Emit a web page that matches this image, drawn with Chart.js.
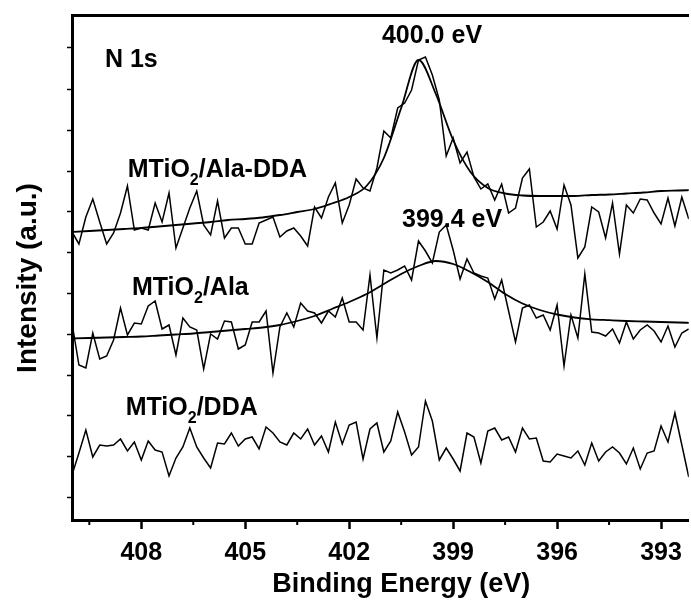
<!DOCTYPE html>
<html lang="en">
<head>
  <meta charset="UTF-8">
  <title>N 1s XPS</title>
  <script src="https://cdn.jsdelivr.net/npm/chart.js"></script>
  <style>
    body { margin: 0; padding: 0; background: #fff; overflow: hidden; }
    canvas { display: block; }
  </style>
</head>
<body>
  <canvas id="xpsChart" width="691" height="601"></canvas>

  <script>
    // binding energy grid of the spectra (eV)
    const energy = [
      410.0, 409.8, 409.6, 409.4, 409.2, 409.0, 408.8, 408.6, 408.4, 408.2,
      408.0, 407.8, 407.6, 407.4, 407.2, 407.0, 406.8, 406.6, 406.4, 406.2,
      406.0, 405.8, 405.6, 405.4, 405.2, 405.0, 404.8, 404.6, 404.4, 404.2,
      404.0, 403.8, 403.6, 403.4, 403.2, 403.0, 402.8, 402.6, 402.4, 402.2,
      402.0, 401.8, 401.6, 401.4, 401.2, 401.0, 400.8, 400.6, 400.4, 400.2,
      400.0, 399.8, 399.6, 399.4, 399.2, 399.0, 398.8, 398.6, 398.4, 398.2,
      398.0, 397.8, 397.6, 397.4, 397.2, 397.0, 396.8, 396.6, 396.4, 396.2,
      396.0, 395.8, 395.6, 395.4, 395.2, 395.0, 394.8, 394.6, 394.4, 394.2,
      394.0, 393.8, 393.6, 393.4, 393.2, 393.0, 392.8, 392.6, 392.4, 392.2
    ];

    const alaDda = [
      288, 276, 303, 321, 298, 276, 287, 307, 334, 290,
      292, 290, 317, 298, 327, 272, 292, 312, 329, 295,
      285, 319, 282, 292, 292, 276, 276, 297, 300, 303,
      283, 289, 292, 284, 274, 313, 302, 323, 337, 297,
      315, 341, 332, 329, 352, 389, 382, 412, 417, 430,
      460, 463, 445, 420, 364, 382, 357, 368, 343, 331,
      336, 320, 336, 307, 312, 342, 351, 293, 298, 309,
      291, 335, 315, 262, 273, 313, 308, 282, 317, 266,
      315, 307, 321, 320, 307, 296, 322, 294, 323, 301
    ];

    const ala = [
      197, 155, 152, 187, 161, 164, 180, 212, 185, 197,
      196, 214, 219, 191, 195, 165, 202, 193, 190, 151,
      186, 181, 199, 198, 171, 175, 198, 198, 209, 147,
      193, 207, 193, 217, 209, 207, 197, 209, 203, 222,
      198, 198, 190, 245, 182, 250, 247, 250, 254, 240,
      279, 269, 257, 288, 295, 270, 241, 261, 247, 244,
      242, 221, 240, 209, 178, 212, 215, 202, 205, 190,
      215, 154, 205, 182, 246, 188, 187, 184, 191, 177,
      198, 181, 190, 195, 189, 178, 194, 173, 187, 191
    ];

    const dda = [
      45, 67, 90, 63, 75, 74, 75, 81, 69, 78,
      60, 79, 70, 68, 44, 62, 73, 92, 73, 62,
      52, 77, 76, 87, 74, 81, 83, 71, 93, 87,
      78, 75, 87, 81, 91, 75, 84, 68, 98, 76,
      95, 98, 61, 91, 97, 68, 79, 108, 88, 65,
      73, 119, 99, 60, 72, 61, 49, 87, 83, 57,
      89, 92, 80, 83, 68, 92, 81, 82, 59, 58,
      66, 64, 62, 69, 55, 77, 59, 68, 73, 67,
      56, 72, 51, 67, 69, 94, 78, 107, 75, 43
    ];

    // fitted peak envelopes, sampled every 0.5 eV
    const fitEnergy = [
      410.0, 409.5, 409.0, 408.5, 408.0, 407.5, 407.0, 406.5, 406.0, 405.5,
      405.0, 404.5, 404.0, 403.5, 403.0, 402.5, 402.0, 401.5, 401.0, 400.5,
      400.0, 399.5, 399.0, 398.5, 398.0, 397.5, 397.0, 396.5, 396.0, 395.5,
      395.0, 394.5, 394.0, 393.5, 393.0, 392.5, 392.0
    ];
    const alaDdaFit = [
      288, 289, 290, 291, 292, 293.5, 295, 296.5, 298, 300,
      301, 302.5, 305, 308, 311, 316.5, 323, 334, 362, 412,
      460, 426, 380, 348, 332, 326.5, 324.5, 324, 324, 324,
      325, 325.5, 326.5, 327.5, 329, 329.5, 330
    ];
    const alaFit = [
      181.5, 182, 182.5, 183, 183.5, 184.5, 185.5, 186.5, 188, 189.5,
      191, 192.5, 195, 199, 204, 211, 218, 226, 236, 246,
      254, 259, 256, 248, 238, 226, 216.5, 210, 205.5, 202.5,
      200.7, 199.8, 199, 198.5, 198, 197.5, 197
    ];

    const xMajorTicks = [408, 405, 402, 399, 396, 393];
    const xMinorTicks = [409.5, 406.5, 403.5, 400.5, 397.5, 394.5];
    const yTicks = [23, 64, 105, 145, 186, 227, 268, 309, 349, 390, 431, 472];

    const xTitle = 'Binding Energy (eV)';
    const yTitle = 'Intensity (a.u.)';

    // text on the plot, placed in data units (eV, a.u.)
    const plotLabels = [
      { parts: [['N 1s']], x: 409.05, y: 453, align: 'left' },
      { parts: [['MTiO'], ['2', true], ['/Ala-DDA']], x: 408.39, y: 343, align: 'left' },
      { parts: [['MTiO'], ['2', true], ['/Ala']], x: 408.27, y: 225, align: 'left' },
      { parts: [['MTiO'], ['2', true], ['/DDA']], x: 408.45, y: 105, align: 'left' },
      { parts: [['400.0 eV']], x: 399.61, y: 477, align: 'center' },
      { parts: [['399.4 eV']], x: 399.03, y: 293, align: 'center' }
    ];

    const FAMILY = '"Liberation Sans", Arial, Helvetica, sans-serif';
    const tickFont = { family: FAMILY, size: 25, weight: 'bold', lineHeight: 1.2 };

    const toPoints = (xs, ys) => xs.map((e, i) => ({ x: e, y: ys[i] }));

    function spectrum(data) {
      return { data: toPoints(energy, data), borderColor: '#000', borderWidth: 1.5,
               pointRadius: 0, tension: 0, fill: false };
    }
    function fitLine(data) {
      return { data: toPoints(fitEnergy, data), borderColor: '#000', borderWidth: 1.8,
               pointRadius: 0, cubicInterpolationMode: 'monotone', fill: false };
    }

    const extraMarks = {
      id: 'extraMarks',
      afterDraw(chart) {
        const { ctx, chartArea, scales: { x, y } } = chart;
        ctx.save();
        // minor ticks on the energy axis
        ctx.strokeStyle = '#000';
        ctx.lineWidth = 2;
        xMinorTicks.forEach(v => {
          const px = x.getPixelForValue(v);
          ctx.beginPath();
          ctx.moveTo(px, chartArea.bottom);
          ctx.lineTo(px, chartArea.bottom + 5);
          ctx.stroke();
        });

        ctx.fillStyle = '#000';
        // axis titles (the original frame runs past the right edge, so the
        // x title sits right of the visible plot centre)
        ctx.textAlign = 'center';
        ctx.textBaseline = 'middle';
        ctx.font = 'bold 27px ' + FAMILY;
        ctx.fillText(xTitle, x.getPixelForValue(400.5), chartArea.bottom + 65);
        ctx.save();
        ctx.translate(28, y.getPixelForValue(242));
        ctx.rotate(-Math.PI / 2);
        ctx.font = 'bold 28px ' + FAMILY;
        ctx.fillText(yTitle, 0, 0);
        ctx.restore();

        // labels inside the plot
        ctx.textBaseline = 'alphabetic';
        ctx.textAlign = 'left';
        plotLabels.forEach(lb => {
          const widths = lb.parts.map(p => {
            ctx.font = (p[1] ? 'bold 16px ' : 'bold 25px ') + FAMILY;
            return ctx.measureText(p[0]).width;
          });
          const total = widths.reduce((a, b) => a + b, 0);
          let px = x.getPixelForValue(lb.x);
          if (lb.align === 'center') px -= total / 2;
          const py = y.getPixelForValue(lb.y);
          lb.parts.forEach((p, i) => {
            ctx.font = (p[1] ? 'bold 16px ' : 'bold 25px ') + FAMILY;
            ctx.fillText(p[0], px, p[1] ? py + 8 : py);
            px += widths[i];
          });
        });
        ctx.restore();
      }
    };

    new Chart(document.getElementById('xpsChart'), {
      type: 'line',
      data: {
        datasets: [
          spectrum(alaDda), fitLine(alaDdaFit),
          spectrum(ala), fitLine(alaFit),
          spectrum(dda)
        ]
      },
      options: {
        responsive: false,
        animation: false,
        layout: { padding: { left: 67, right: 0, top: 15, bottom: 24 } },
        plugins: { legend: { display: false }, tooltip: { enabled: false } },
        scales: {
          x: {
            type: 'linear', position: 'bottom', reverse: true, min: 392.2, max: 410,
            afterBuildTicks: s => { s.ticks = xMajorTicks.map(v => ({ value: v })); },
            ticks: { color: '#000', font: tickFont, padding: 9, maxRotation: 0, autoSkip: false },
            grid: { drawOnChartArea: false, drawTicks: true, tickLength: 9, tickWidth: 2.5, tickColor: '#000' },
            border: { color: '#000', width: 3 }
          },
          xTop: {
            type: 'linear', position: 'top', reverse: true, min: 392.2, max: 410,
            ticks: { display: false },
            grid: { display: false, drawTicks: false },
            border: { color: '#000', width: 3 }
          },
          y: {
            type: 'linear', min: 0, max: 505,
            afterBuildTicks: s => { s.ticks = yTicks.map(v => ({ value: v })); },
            ticks: { display: false },
            grid: { drawOnChartArea: false, drawTicks: true, tickLength: 5, tickWidth: 1.5, tickColor: '#000' },
            border: { color: '#000', width: 3 }
          }
        }
      },
      plugins: [extraMarks]
    });
  </script>
</body>
</html>
